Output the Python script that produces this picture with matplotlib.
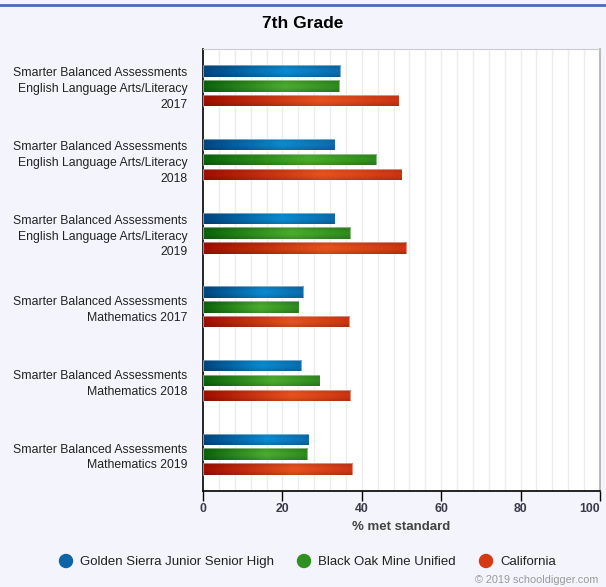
import numpy as np
import matplotlib
matplotlib.use("Agg")
import matplotlib.pyplot as plt
from matplotlib.colors import to_rgb
from matplotlib.patches import Ellipse
from matplotlib.lines import Line2D

categories = [
    "Smarter Balanced Assessments\nEnglish Language Arts/Literacy\n2017",
    "Smarter Balanced Assessments\nEnglish Language Arts/Literacy\n2018",
    "Smarter Balanced Assessments\nEnglish Language Arts/Literacy\n2019",
    "Smarter Balanced Assessments\nMathematics 2017",
    "Smarter Balanced Assessments\nMathematics 2018",
    "Smarter Balanced Assessments\nMathematics 2019",
]
series_names = ["Golden Sierra Junior Senior High", "Black Oak Mine Unified", "California"]
golden_sierra = [34.6, 33.2, 33.2, 25.2, 24.7, 26.6]
black_oak = [34.3, 43.7, 37.1, 24.1, 29.4, 26.3]
california = [49.3, 50.1, 51.2, 36.8, 37.1, 37.6]
xticks = [0, 20, 40, 60, 80, 100]
title = "7th Grade"
xlabel = "% met standard"

palettes = [
    ("#00457f", "#0a8ad0", "#0b6cad"),
    ("#0a630a", "#4aac2e", "#2e8a1e"),
    ("#a00d00", "#e8521e", "#cc3412"),
]
legend_colors = ["#0d65a8", "#2f8f1f", "#d63a14"]

bg = "#f4f4fc"
fig = plt.figure(figsize=(6.06, 5.87), dpi=100, facecolor=bg)
W, H = 606, 587
ax = fig.add_axes([203 / W, 1 - 491 / H, (600 - 203) / W, (491 - 49) / H])
ax.set_facecolor("white")

n = len(categories)
ypos = np.arange(n)
offsets = [-0.2, 0.0, 0.2]
bh = 0.155
all_series = [golden_sierra, black_oak, california]

# grid every 4 units
for gx in np.arange(4, 100, 4):
    ax.axvline(gx, color="#ececec", lw=1, zorder=0)

def grad_img(dark, light, end):
    d, l, e = np.array(to_rgb(dark)), np.array(to_rgb(light)), np.array(to_rgb(end))
    xs = np.linspace(0, 1, 200)
    cols = []
    for x in xs:
        if x < 0.6:
            t = x / 0.6
            c = d * (1 - t) + l * t
        else:
            t = (x - 0.6) / 0.4
            c = l * (1 - t) + e * t
        cols.append(c)
    cols = np.array(cols)
    ys = np.linspace(-1, 1, 20)
    shade = 1 - 0.18 * ys ** 2
    img = cols[None, :, :] * shade[:, None, None]
    return np.clip(img, 0, 1)

for si, (vals, off) in enumerate(zip(all_series, offsets)):
    bars = ax.barh(ypos + off, vals, height=bh, color="none",
                   linewidth=0.0, zorder=2)
    img = grad_img(*palettes[si])
    for b in bars:
        x0, y0 = b.get_x(), b.get_y()
        w, h = b.get_width(), b.get_height()
        im = ax.imshow(img, extent=[x0, x0 + w, y0 + h, y0], aspect="auto",
                       zorder=3, interpolation="bilinear")
        im.set_clip_path(b)
        ax.add_patch(plt.Rectangle((x0, y0), w, h, fill=False,
                                   edgecolor=(1, 1, 1, 0.45), lw=0.8, zorder=4))
ax.set_xlim(0, 100)
ax.set_ylim(n - 0.5, -0.5)

ax.set_yticks(ypos)
ax.set_yticklabels(categories, fontsize=8.8, family="Liberation Sans",
                   color="#222222", ha="right", linespacing=1.42)
ax.tick_params(axis="y", length=0, pad=11)
ax.set_xticks(xticks)
ax.set_xticklabels([str(t) for t in xticks], fontsize=8.8, family="Liberation Sans",
                   fontweight="bold", color="#3a3a4a")
ax.tick_params(axis="x", length=7, width=1, color="black", pad=2)
lbls = ax.get_xticklabels()
lbls[-1].set_horizontalalignment("right")
ax.set_xlabel(xlabel, fontsize=9.5, family="Liberation Sans", fontweight="bold",
              color="#444444", labelpad=4)

for s in ["left", "bottom"]:
    ax.spines[s].set_color("black")
    ax.spines[s].set_linewidth(1.2)
ax.spines["top"].set_color("#cccccc")
ax.spines["right"].set_color("#bbbbbb")
ax.spines["right"].set_linewidth(1.5)

fig.text(0.5, 1 - 23 / H, title, ha="center", va="center", fontsize=12.5,
         fontweight="bold", family="Liberation Sans", color="black")
fig.add_artist(Line2D([0, 1], [1 - 4.5 / H, 1 - 4.5 / H], color="#4a6cb8", lw=2))

# legend
leg_x = [66, 304, 486]
for lx, name, c in zip(leg_x, series_names, legend_colors):
    fig.add_artist(Ellipse((lx / W, 1 - 561 / H), 13 / W, 13 / H,
                           transform=fig.transFigure, color=c))
    fig.text((lx + 14) / W, 1 - 562 / H, name, ha="left", va="center", fontsize=9.5,
             family="Liberation Sans", color="#222222")

fig.text(598 / W, 1 - 580 / H, "\u00a9 2019 schooldigger.com", ha="right", va="center",
         fontsize=7.8, family="Liberation Sans", color="#999999")

fig.savefig("out.png", dpi=100, facecolor=bg)
